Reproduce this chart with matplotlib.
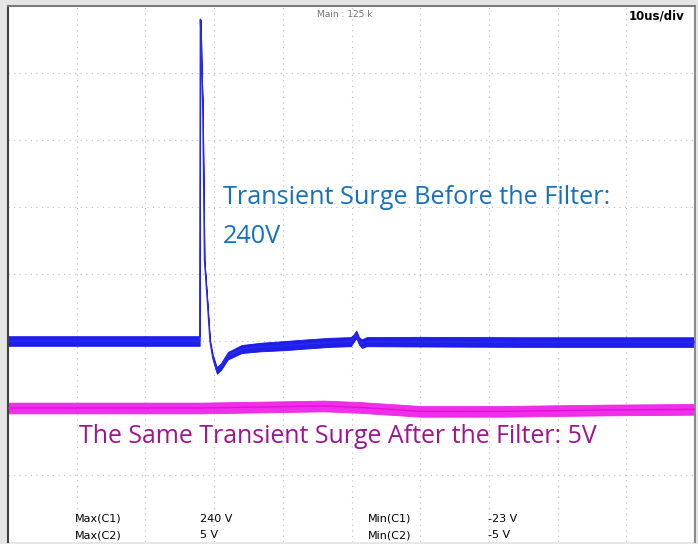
import matplotlib
matplotlib.use("Agg")
import matplotlib.pyplot as plt
import numpy as np

# time axis in microseconds (10 us/div), C1 in volts (50 V/div)
c1_t = [0, 27.9, 28.0, 28.1, 28.2, 28.35, 28.6, 29.0, 29.4, 29.8, 30.4, 31.0,
        32.0, 34.0, 36.8, 40.1, 44.0, 46.9, 49.9, 50.3, 50.7, 51.1, 51.5, 52.2,
        60.0, 75.0, 100.0]
c1_v = [0, 0, 240, 228, 200, 176, 60, 31, 0, -12, -22, -19,
        -11, -6, -4.5, -3.5, -2, -1, -0.5, 2, 5, 0, -2, -0.5,
        -0.5, -0.8, -0.8]
c1_band = [3.6, 3.6, 0, 0, 0, 0, 0, 0.6, 1.2, 2.0, 2.4, 2.6,
           2.8, 3.0, 3.2, 3.4, 3.4, 3.4, 3.4, 2.8, 2.8, 2.8, 3.2, 3.4,
           3.6, 3.6, 3.6]

# C2 in volts, drawn with its own offset/gain on the same screen
c2_t = [0, 28.0, 40.0, 46.0, 51.0, 60.0, 72.0, 87.0, 100.0]
c2_v = [0, 0, 0.2, 0.3, 0.1, -0.5, -0.5, -0.3, -0.2]
c2_band = [0.8, 0.8, 0.8, 0.8, 0.8, 0.8, 0.8, 0.8, 0.8]
c2_offset = -50.0
c2_gain = 5.0

meas_names = ["Max(C1)", "Max(C2)", "Min(C1)", "Min(C2)"]
meas_values = ["240 V", "5 V", "-23 V", "-5 V"]

fig = plt.figure(figsize=(6.98, 5.44), dpi=100, facecolor="#e6e6e6")
ax = fig.add_axes([8 / 698, 2 / 544, 687 / 698, 536 / 544])
ax.set_facecolor("white")
ax.set_xlim(0, 100)
ax.set_ylim(-150, 250)

# scope graticule
for x in np.arange(10, 100, 10):
    ax.axvline(x, color="#bdbdbd", lw=0.8, ls=(0, (1, 4)), zorder=0)
for y in np.arange(-100, 250, 50):
    ax.axhline(y, color="#bdbdbd", lw=0.8, ls=(0, (1, 4)), zorder=0)

t1 = np.array(c1_t)
v1 = np.array(c1_v)
b1 = np.array(c1_band)
ax.fill_between(t1, v1 - b1, v1 + b1, color="#0c0ce8", lw=0.6, alpha=0.92, zorder=2)
ax.plot(t1, v1, color="#2a2af0", lw=1.0, zorder=3)

t2 = np.array(c2_t)
v2 = c2_offset + c2_gain * np.array(c2_v)
b2 = c2_gain * np.array(c2_band)
ax.fill_between(t2, v2 - b2, v2 + b2, color="#ee1ee6", lw=0.6, alpha=0.92, zorder=2)
ax.plot(t2, v2, color="#e010dc", lw=1.0, zorder=3)

ax.text(31.25, 107, "Transient Surge Before the Filter:", color="#1570c2",
        fontsize=18.2, family="Open Sans", va="center", ha="left")
ax.text(31.25, 78, "240V", color="#1570c2",
        fontsize=18.2, family="Open Sans", va="center", ha="left")
ax.text(10.4, -71.5, "The Same Transient Surge After the Filter: 5V", color="#a0148e",
        fontsize=17.9, family="Open Sans", va="center", ha="left")

ax.text(45.0, 243.5, "Main : 125 k", color="#707070", fontsize=6.5, va="center")
ax.text(90.3, 242.5, "10us/div", color="black", fontsize=8.5, va="center",
        family="DejaVu Sans", fontweight="bold")

meas_x = [9.7, 9.7, 52.4, 52.4]
val_x = [28.0, 28.0, 69.9, 69.9]
meas_y = [-132.5, -145.0, -132.5, -145.0]
for name, val, mx, vx, my in zip(meas_names, meas_values, meas_x, val_x, meas_y):
    ax.text(mx, my, name, fontsize=8, va="center", family="Liberation Sans Narrow")
    ax.text(vx, my, val, fontsize=8, va="center", family="Liberation Sans Narrow")

ax.set_xticks([])
ax.set_yticks([])
ax.spines["left"].set_color("#404040")
ax.spines["left"].set_linestyle((0, (3, 1)))
ax.spines["left"].set_linewidth(1.5)
ax.spines["top"].set_color("#7a7a7a")
ax.spines["top"].set_linewidth(1.5)
ax.spines["right"].set_color("#8a8a8a")
ax.spines["right"].set_linewidth(1.5)
ax.spines["bottom"].set_visible(False)

fig.savefig("out.png", dpi=100, facecolor=fig.get_facecolor())
